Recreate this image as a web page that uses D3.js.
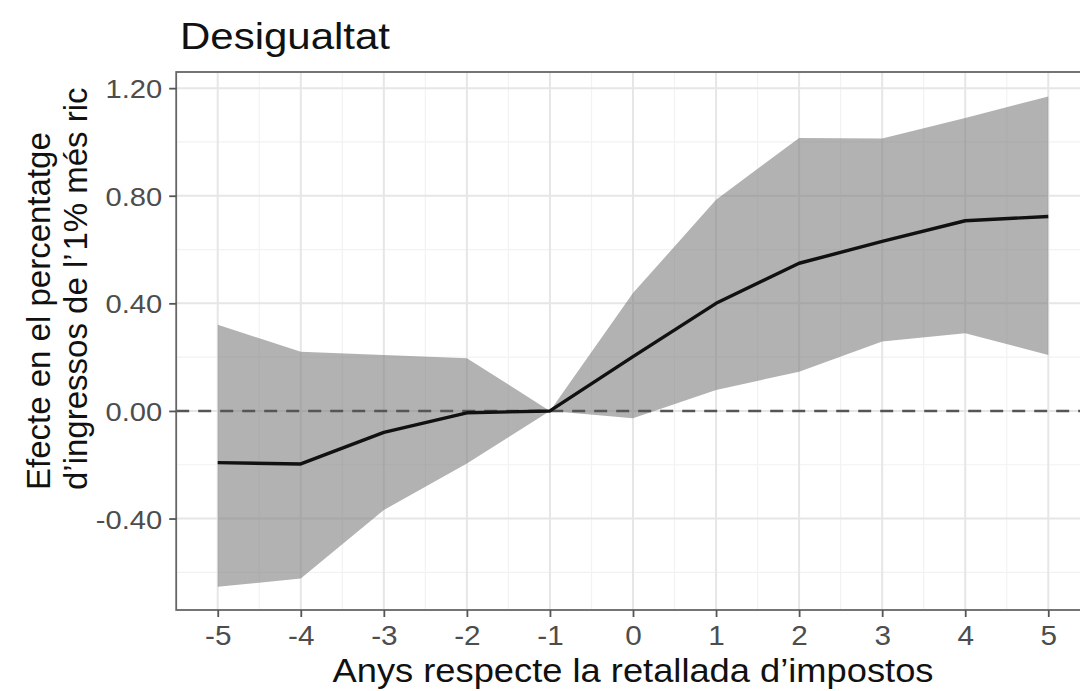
<!DOCTYPE html>
<html>
<head>
<meta charset="utf-8">
<script src="https://cdn.jsdelivr.net/npm/d3@7"></script>
<style>
html,body{margin:0;padding:0;background:#fff;}
svg{display:block;font-family:"Liberation Sans",Arial,Helvetica,sans-serif;}
</style>
</head>
<body>
<svg id="chart" width="1080" height="691"></svg>
<script>
const years = [-5,-4,-3,-2,-1,0,1,2,3,4,5];
const estimate = [-0.192,-0.197,-0.080,-0.007,0.000,0.202,0.400,0.549,0.630,0.707,0.723];
const upper = [0.320,0.220,0.208,0.196,0.000,0.438,0.785,1.015,1.013,1.089,1.169];
const lower = [-0.654,-0.623,-0.368,-0.195,0.000,-0.027,0.078,0.146,0.258,0.289,0.208];
const xTicks = [-5,-4,-3,-2,-1,0,1,2,3,4,5];
const yTicks = [1.2,0.8,0.4,0.0,-0.4];
const yMinor = [1.0,0.6,0.2,-0.2,-0.6];
const xMinor = [-4.5,-3.5,-2.5,-1.5,-0.5,0.5,1.5,2.5,3.5,4.5];
const titleText = "Desigualtat";
const xTitle = "Anys respecte la retallada d\u2019impostos";
const yTitle = ["Efecte en el percentatge","d\u2019ingressos de l\u2019\u200a1% m\u00e9s ric"];

const svg = d3.select("#chart");
const P = {left:176.2, right:1089.8, top:72, bottom:610};
const x = d3.scaleLinear().domain([-5.5,5.5]).range([P.left,P.right]);
const y = d3.scaleLinear().domain([-0.74,1.26]).range([P.bottom,P.top]);
const SX = 1.1;

svg.append("defs").append("clipPath").attr("id","clip")
  .append("rect").attr("x",P.left).attr("y",P.top).attr("width",P.right-P.left).attr("height",P.bottom-P.top);

const panel = svg.append("g").attr("clip-path","url(#clip)");
panel.append("rect").attr("x",P.left).attr("y",P.top).attr("width",P.right-P.left).attr("height",P.bottom-P.top).attr("fill","#fff");

// minor grid
panel.selectAll(".xmin").data(xMinor).join("line")
  .attr("x1",d=>x(d)).attr("x2",d=>x(d)).attr("y1",P.top).attr("y2",P.bottom)
  .attr("stroke","#f2f2f2").attr("stroke-width",1.2);
panel.selectAll(".ymin").data(yMinor).join("line")
  .attr("y1",d=>y(d)).attr("y2",d=>y(d)).attr("x1",P.left).attr("x2",P.right)
  .attr("stroke","#f2f2f2").attr("stroke-width",1.2);
// major grid
panel.selectAll(".xmaj").data(xTicks).join("line")
  .attr("x1",d=>x(d)).attr("x2",d=>x(d)).attr("y1",P.top).attr("y2",P.bottom)
  .attr("stroke","#e6e6e6").attr("stroke-width",2);
panel.selectAll(".ymaj").data(yTicks).join("line")
  .attr("y1",d=>y(d)).attr("y2",d=>y(d)).attr("x1",P.left).attr("x2",P.right)
  .attr("stroke","#e6e6e6").attr("stroke-width",2);

const data = years.map((yr,i)=>({yr, est:estimate[i], lo:lower[i], hi:upper[i]}));

panel.append("path").datum(data)
  .attr("d", d3.area().x(d=>x(d.yr)).y0(d=>y(d.lo)).y1(d=>y(d.hi)))
  .attr("fill","#7f7f7f").attr("fill-opacity",0.6);

panel.append("line").attr("x1",P.left).attr("x2",P.right).attr("y1",y(0)).attr("y2",y(0))
  .attr("stroke","#555").attr("stroke-width",2.6).attr("stroke-dasharray","13,9");

panel.append("path").datum(data)
  .attr("d", d3.line().x(d=>x(d.yr)).y(d=>y(d.est)))
  .attr("fill","none").attr("stroke","#111").attr("stroke-width",3.4).attr("stroke-linejoin","round");

// border
svg.append("rect").attr("x",P.left).attr("y",P.top).attr("width",P.right-P.left).attr("height",P.bottom-P.top)
  .attr("fill","none").attr("stroke","#666").attr("stroke-width",1.8);

// axes
const gx = svg.append("g").attr("transform",`translate(0,${P.bottom})`)
  .call(d3.axisBottom(x).tickValues(xTicks).tickSize(7).tickPadding(3).tickFormat(d3.format("d")));
gx.select(".domain").remove();
gx.selectAll(".tick line").attr("stroke","#555").attr("stroke-width",1.8);
gx.selectAll(".tick text").attr("font-size",27).attr("fill","#4d4d4d")
  .attr("font-family","Liberation Sans, Arial, sans-serif")
  .text(d=> d<0 ? "-"+Math.abs(d) : String(d))
  .attr("transform",`scale(${SX},1)`).attr("x",0).attr("dy","0.78em").attr("y",14);

const gy = svg.append("g").attr("transform",`translate(${P.left},0)`)
  .call(d3.axisLeft(y).tickValues(yTicks).tickSize(7).tickPadding(7).tickFormat(d=>d3.format(".2f")(d).replace("\u2212","-")));
gy.select(".domain").remove();
gy.selectAll(".tick line").attr("stroke","#555").attr("stroke-width",1.8);
gy.selectAll(".tick text").attr("font-size",26.5).attr("fill","#4d4d4d")
  .attr("font-family","Liberation Sans, Arial, sans-serif")
  .attr("transform",`scale(${SX},1)`).attr("x",-14/SX).attr("dy","0.36em");

// titles
svg.append("text").attr("transform",`translate(180,49) scale(1.15,1)`)
  .attr("font-size",36.5).attr("fill","#111").text(titleText);

svg.append("text").attr("transform",`translate(${(P.left+P.right)/2 - 0},682) scale(${SX},1)`)
  .attr("text-anchor","middle").attr("font-size",33).attr("fill","#111").text(xTitle);

const xs = [50, 87];
yTitle.forEach((t,i)=>{
  svg.append("text").attr("transform",`translate(${xs[i]},490) rotate(-90)`)
    .attr("text-anchor","start").attr("font-size",33).attr("fill","#111").text(t);
});
</script>
</body>
</html>
